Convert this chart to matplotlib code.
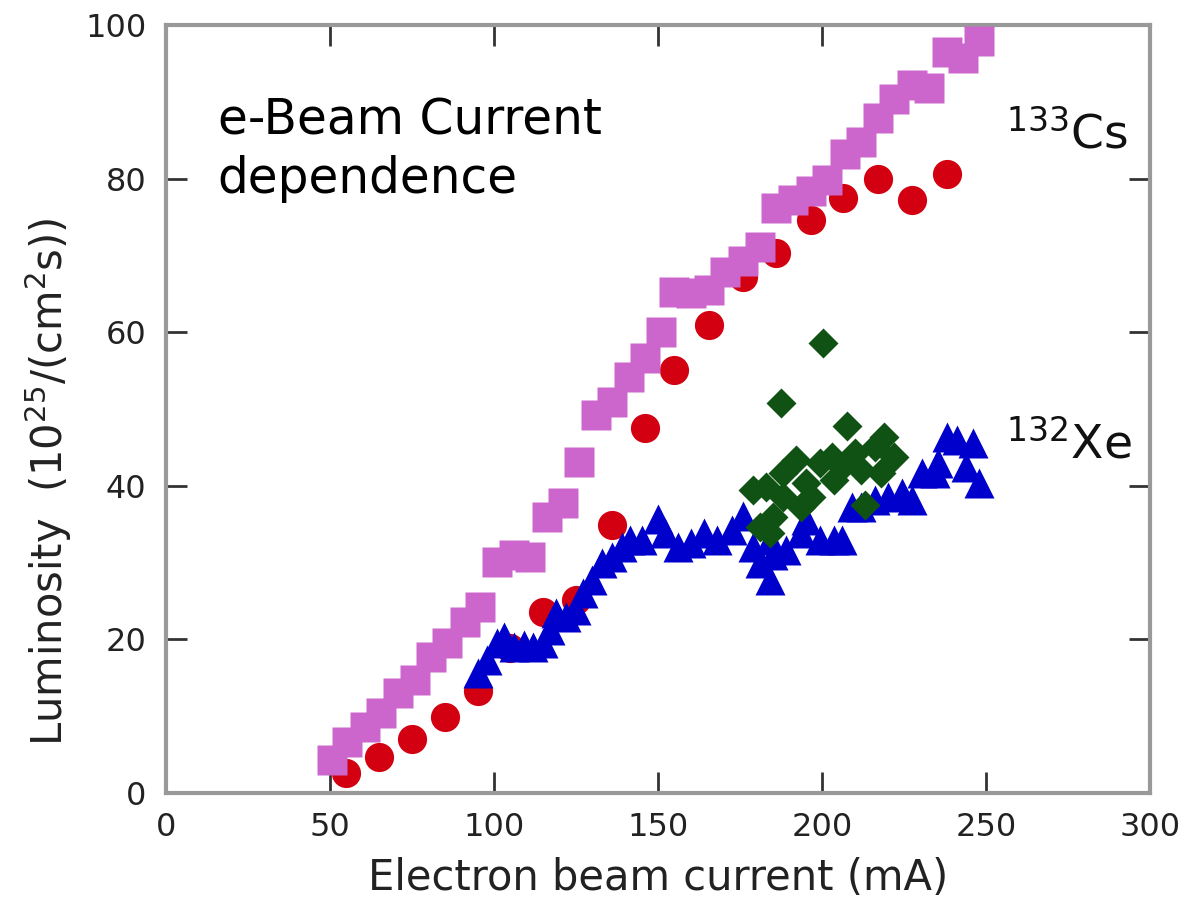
import matplotlib.pyplot as plt
import numpy as np

# 133Cs, red circles
cs_circ_x = [55, 65, 75, 85, 95, 105, 115, 125, 136, 146, 155, 165.5, 176, 186, 196.5, 206.5, 217, 227.5, 238]
cs_circ_y = [2.6, 4.6, 7.0, 9.8, 13.2, 18.9, 23.6, 25.1, 34.9, 47.5, 55.1, 60.9, 67.2, 70.4, 74.7, 77.5, 80.0, 77.3, 80.7]

# 133Cs, magenta squares
cs_sq_x = [50.5, 55.3, 60.7, 65.6, 70.7, 75.8, 80.7, 85.8, 91, 95.8, 101, 106, 111, 116, 121, 126, 131,
           136, 141, 146, 151, 155, 160, 165.5, 170.5, 176, 181, 186, 191, 196.5, 201.5, 207, 212, 217,
           222, 227.5, 232.5, 238, 243, 248]
cs_sq_y = [4.3, 6.6, 8.5, 10.4, 13.0, 14.7, 17.7, 19.5, 22.3, 24.2, 30.1, 31.0, 30.7, 35.9, 37.8, 43.1, 49.2,
           50.9, 54.2, 56.6, 60.0, 65.2, 65.1, 65.5, 67.8, 69.3, 71.1, 76.2, 77.3, 78.4, 79.8, 83.3, 84.8, 88.0,
           90.4, 92.2, 91.9, 96.5, 95.8, 98.0]

# 132Xe, blue triangles
xe_tri_x = [95, 98, 101, 103, 106, 109, 112, 115, 117, 119, 122, 125, 127, 130, 133, 136, 139, 141.5,
            145, 150, 152, 156, 160, 164, 168, 172.5, 176, 179, 181, 184, 184, 185, 189, 193.5, 195,
            199.5, 203.5, 206, 209, 212, 216, 220, 224.5, 227.5, 230.5, 234.5, 235.5, 238, 241, 244,
            246, 248]
xe_tri_y = [15.6, 17.3, 19.5, 20.3, 19.0, 19.3, 19.0, 19.5, 21.2, 23.4, 22.9, 23.8, 26.0, 27.7, 29.9, 30.7,
            32.0, 32.9, 32.9, 35.7, 33.8, 32.0, 32.6, 33.8, 32.9, 34.2, 36.0, 32.0, 29.9, 27.7, 32.9, 31.0,
            31.6, 33.8, 35.5, 32.9, 32.9, 32.9, 37.2, 37.2, 38.2, 38.5, 39.0, 38.2, 41.7, 41.7, 43.0, 46.4,
            46.0, 42.5, 45.6, 40.4]

# 132Xe, green diamonds
xe_dia_x = [181, 184, 185, 179, 183, 188, 188, 192, 193.5, 195, 196.5, 199.5, 203, 203.5, 206, 210, 212,
            216, 218, 219, 222, 187.5, 200.3, 207.7, 213]
xe_dia_y = [34.6, 33.8, 35.9, 39.5, 39.8, 41.7, 38.5, 43.4, 37.2, 40.4, 38.5, 43.0, 43.8, 40.8, 42.4, 44.3,
            42.1, 45.1, 41.7, 46.4, 43.8, 50.8, 58.6, 47.8, 37.5]

x_ticks = [0, 50, 100, 150, 200, 250, 300]
y_ticks = [0, 20, 40, 60, 80, 100]

fig = plt.figure(figsize=(12.03, 9.09), dpi=100)
ax = fig.add_axes([0.138, 0.128, 0.818, 0.844])

ax.plot(cs_circ_x, cs_circ_y, 'o', color='#d20010', ms=21, mec='none', zorder=2)
ax.plot(cs_sq_x, cs_sq_y, 's', color='#cc66cc', ms=21, mec='none', zorder=3)
ax.plot(xe_tri_x, xe_tri_y, '^', color='#0000cc', ms=21, mec='none', zorder=4)
ax.plot(xe_dia_x, xe_dia_y, 'D', color='#0f5214', ms=15.5, mec='none', zorder=5)

ax.set_xlim(0, 300)
ax.set_ylim(0, 100)
ax.set_xticks(x_ticks)
ax.set_yticks(y_ticks)
ax.tick_params(direction='in', length=15, width=2, color='#333333', top=True, right=True,
               labelsize=23, pad=14, labelcolor='#222222')
for s in ax.spines.values():
    s.set_color('#999999')
    s.set_linewidth(3)

ax.set_xlabel('Electron beam current (mA)', fontsize=30, color='#222222', labelpad=10)
ax.set_ylabel(r'Luminosity  (10$^{25}$/(cm$^2$s))', fontsize=30, color='#222222')
ax.yaxis.set_label_coords(-0.093, 0.405)

ax.text(15.7, 90.8, 'e-Beam Current\ndependence', fontsize=35, va='top', ha='left',
        linespacing=1.3, color='black')
ax.text(256, 84.0, r'$^{133}$Cs', fontsize=34, va='baseline', ha='left', color='#111111')
ax.text(256, 43.6, r'$^{132}$Xe', fontsize=34, va='baseline', ha='left', color='#111111')

fig.savefig('out.png', dpi=100)
